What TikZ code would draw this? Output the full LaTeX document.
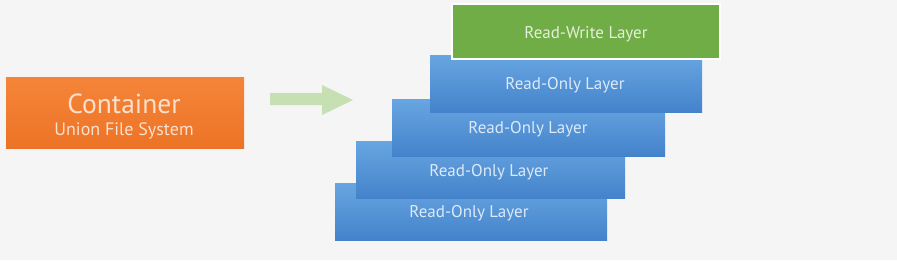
\documentclass[tikz,border=0pt]{standalone}
\usepackage{fontspec}
\setmainfont{PT Sans}
\definecolor{bgc}{HTML}{F5F5F5}
\definecolor{orangetop}{HTML}{F5853A}
\definecolor{orangebot}{HTML}{EC7326}
\definecolor{orangetxt}{HTML}{FCE0CC}
\definecolor{bluetop}{HTML}{68A5E2}
\definecolor{bluebot}{HTML}{4483CB}
\definecolor{bluetxt}{HTML}{DCEAF8}
\definecolor{greenfill}{HTML}{70AD47}
\definecolor{greentxt}{HTML}{E3F0D8}
\definecolor{arrowc}{HTML}{C6E0B4}
\begin{document}
\begin{tikzpicture}[x=1pt,y=-1pt,
  layer/.style={draw=none,top color=bluetop,bottom color=bluebot},
  rwlayer/.style={draw=white,line width=1.5pt,fill=greenfill},
  contbox/.style={draw=none,top color=orangetop,bottom color=orangebot},
  bluelabel/.style={text=bluetxt,font=\fontsize{17}{19}\selectfont},
  greenlabel/.style={text=greentxt,font=\fontsize{17}{19}\selectfont}
]
\fill[bgc] (0,0) rectangle (897,260);
\useasboundingbox (0,0) rectangle (897,260);

% container
\path[contbox] (6,77) rectangle (244,148);
\node[text=orangetxt,font=\fontsize{27.5}{30}\selectfont] (cont) at (124,104) {Container};
\node[text=orangetxt,font=\fontsize{18}{20}\selectfont] (ufs) at (124,131) {Union File System};

% arrow
\fill[arrowc] (270,93) -- (322,93) -- (322,85) -- (353,100) -- (322,115) -- (322,105) -- (270,105) -- cycle;

% layers (bottom first)
\path[layer] (335,183) rectangle (607,240);
\node[bluelabel] (l4) at (469,213) {Read-Only Layer};
\path[layer] (356,141) rectangle (625,198);
\node[bluelabel] (l3) at (489,172) {Read-Only Layer};
\path[layer] (392,99) rectangle (665,156);
\node[bluelabel] (l2) at (528,129.5) {Read-Only Layer};
\path[layer] (430,55) rectangle (702,112);
\node[bluelabel] (l1) at (565,85) {Read-Only Layer};
\path[rwlayer] (452,4) rectangle (720,59);
\node[greenlabel] (rw) at (586,34) {Read-Write Layer};
\end{tikzpicture}
\end{document}
